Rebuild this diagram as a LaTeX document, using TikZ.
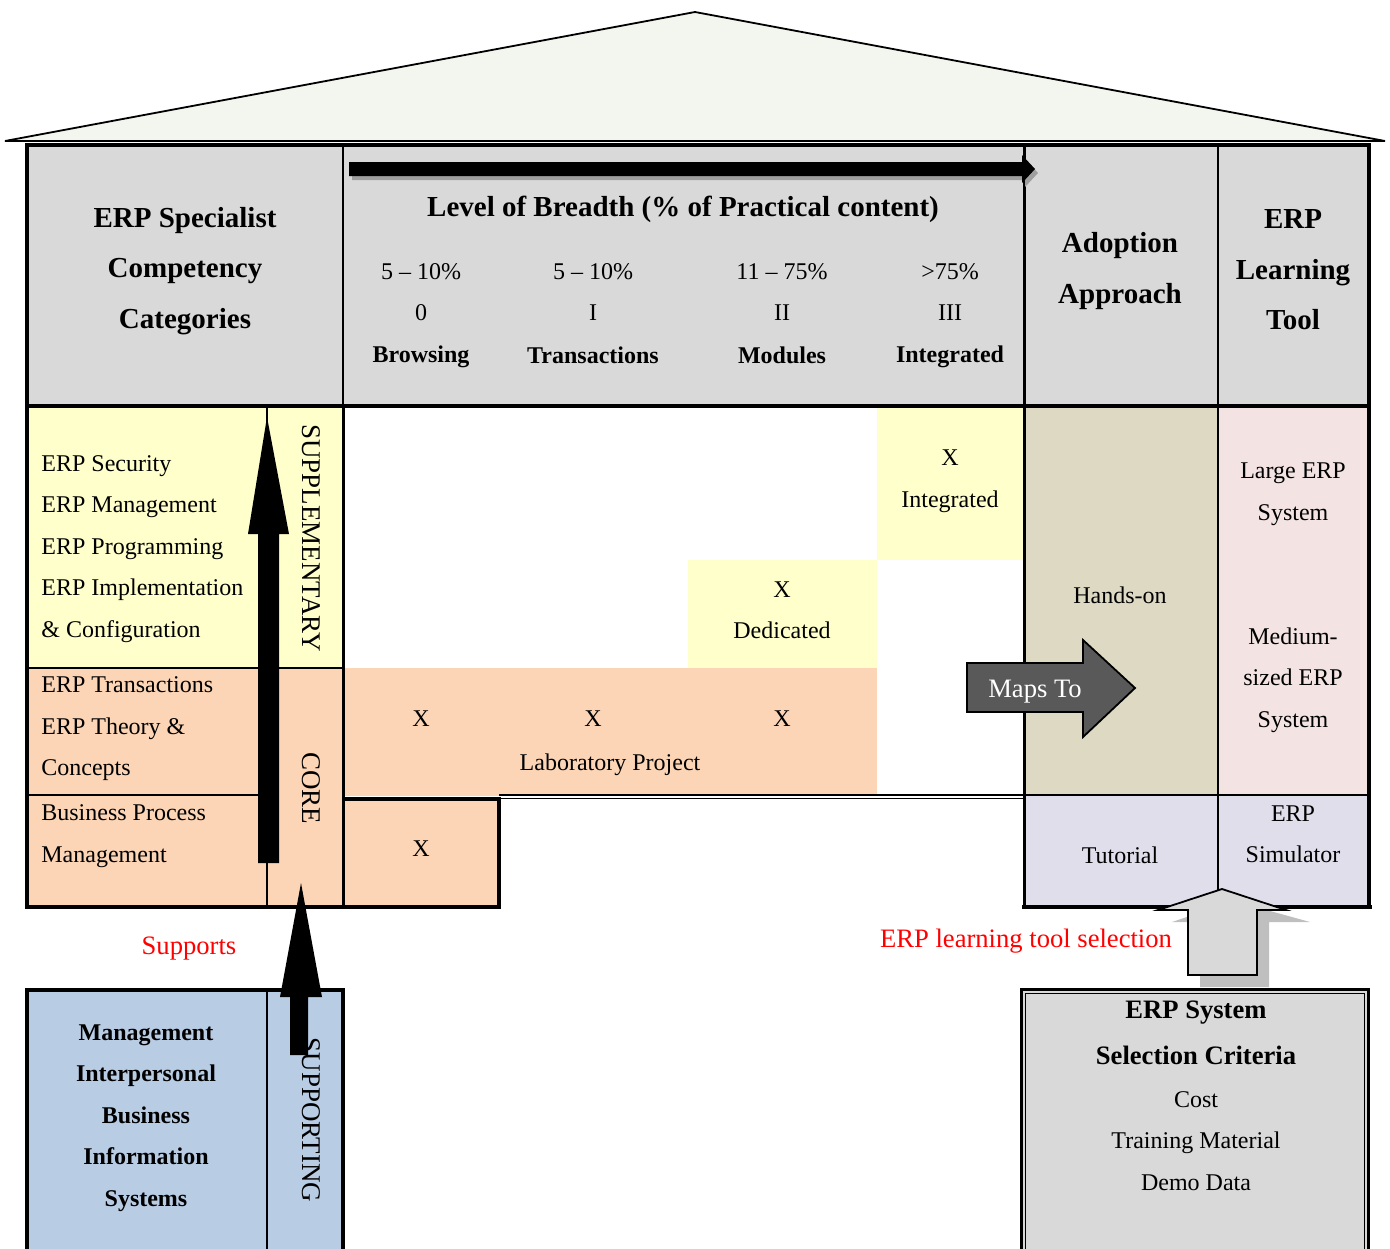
\documentclass[tikz,border=0pt]{standalone}
\usepackage{fontspec}
\setmainfont{Liberation Serif}
\definecolor{roofc}{HTML}{F3F6EE}
\definecolor{hdrgray}{HTML}{D9D9D9}
\definecolor{yel}{HTML}{FFFFCC}
\definecolor{ora}{HTML}{FBD5B5}
\definecolor{hand}{HTML}{DDD9C3}
\definecolor{pinkc}{HTML}{F3E4E3}
\definecolor{lav}{HTML}{E1DEEB}
\definecolor{blu}{HTML}{B8CCE4}
\definecolor{mapc}{HTML}{595959}
\definecolor{shad}{HTML}{BFBFBF}
\definecolor{redt}{HTML}{FF0000}
\begin{document}
\begin{tikzpicture}[x=0.5pt,y=-0.5pt,line join=miter,
  thickline/.style={line width=2pt},
  medline/.style={line width=1.5pt},
  thinline/.style={line width=0.9pt},
  txt/.style={font=\fontsize{12}{20.75}\selectfont,align=center,inner sep=0pt},
  ltxt/.style={font=\fontsize{12}{20.75}\selectfont,align=left,inner sep=0pt,anchor=west},
  hdr/.style={font=\bfseries\fontsize{14.5}{25.25}\selectfont,align=center,inner sep=0pt},
  bld/.style={font=\bfseries\fontsize{12}{20.75}\selectfont,align=center,inner sep=0pt},
  bigb/.style={font=\bfseries\fontsize{13.3}{23}\selectfont,align=center,inner sep=0pt},
  redlab/.style={font=\fontsize{13.3}{16}\selectfont,text=redt,inner sep=0pt},
  vert/.style={font=\fontsize{13.5}{16}\selectfont,rotate=-90,inner sep=0pt}]
\useasboundingbox (0,0) rectangle (1390,1248);

% roof
\filldraw[fill=roofc,line width=0.9pt] (5,141) -- (695,12) -- (1385,141) -- cycle;

% fills
\fill[hdrgray] (27,144) rectangle (1369,406);
\fill[yel] (27,406) rectangle (343,668);
\fill[ora] (27,668) rectangle (343,907);
\fill[yel] (877,406) rectangle (1024,560);
\fill[yel] (688,560) rectangle (877,668);
\fill[ora] (343,668) rectangle (877,796);
\fill[ora] (343,799) rectangle (499,907);
\fill[hand] (1024,406) rectangle (1218,795);
\fill[pinkc] (1218,406) rectangle (1369,795);
\fill[lav] (1024,795) rectangle (1369,907);
\fill[blu] (27,990) rectangle (343,1260);
\fill[hdrgray] (1021,989) rectangle (1368,1260);

% grid lines
\draw[thickline] (25,144.5) -- (1371,144.5);
\draw[thickline] (27,144) -- (27,907) -- (499,907) -- (499,799) -- (343,799);
\draw[thickline] (27,406) -- (1369,406);
\draw[thinline] (343,144) -- (343,406);
\draw[medline] (343,406) -- (343,907);
\draw[medline] (1024,144) -- (1024,907);
\draw[thinline] (1218,144) -- (1218,907);
\draw[thickline] (1369,144) -- (1369,907);
\draw[thickline] (1022,907) -- (1372,907);
\draw[thinline] (1024,795) -- (1369,795);
\draw[thinline] (27,668) -- (343,668);
\draw[thinline] (27,795) -- (267,795);
\draw[thinline] (267,406) -- (267,907);
\draw[line width=0.6pt] (499,795) -- (1024,795);
\draw[line width=0.6pt] (499,798.5) -- (1024,798.5);

% supporting box
\draw[thickline] (27,1260) -- (27,990) -- (343,990) -- (343,1260);
\draw[thinline] (267,990) -- (267,1260);
% criteria box
\draw[medline] (1021,1260) -- (1021,989) -- (1368,989) -- (1368,1260);
\draw[line width=0.5pt] (1025,1260) -- (1025,993) -- (1364,993) -- (1364,1260);

% header texts
\node[hdr] (hcat) at (185,271) {ERP Specialist\\Competency\\Categories};
\node[hdr] (hlev) at (683,209) {Level of Breadth (\% of Practical content)};
\node[hdr] (hadopt) at (1120,271) {Adoption\\Approach};
\node[hdr] (htool) at (1293,270) {ERP\\Learning\\Tool};
\node[txt] (p0) at (421,272) {5 – 10\%};
\node[txt] (p1) at (593,272) {5 – 10\%};
\node[txt] (p2) at (782,272) {11 – 75\%};
\node[txt] (p3) at (950,272) {>75\%};
\node[txt] (r0) at (421,313) {0};
\node[txt] (r1) at (593,313) {I};
\node[txt] (r2) at (782,313) {II};
\node[txt] (r3) at (950,313) {III};
\node[bld] (b0) at (421,357) {Browsing};
\node[bld] (b1) at (593,355) {Transactions};
\node[bld] (b2) at (782,355) {Modules};
\node[bld] (b3) at (950,357) {Integrated};

% left column texts
\node[ltxt] (supl) at (41,549) {ERP Security\\ERP Management\\ERP Programming\\ERP Implementation\\\& Configuration};
\node[ltxt] (corel) at (41,729) {ERP Transactions\\ERP Theory \&\\Concepts};
\node[ltxt] (bpm) at (41,836) {Business Process\\Management};
\node[vert] (supv) at (311,538) {SUPPLEMENTARY};
\node[vert] (corev) at (311,788) {CORE};

% matrix cells
\node[txt] (xint) at (950,481) {X\\Integrated};
\node[txt] (xded) at (782,610) {X\\Dedicated};
\node[txt] (xa) at (421,719) {X};
\node[txt] (xb) at (593,719) {X};
\node[txt] (xc) at (782,719) {X};
\node[txt] (lab) at (610,765) {Laboratory Project};
\node[txt] (xd) at (421,849) {X};

% right columns
\node[txt] (hands) at (1120,595) {Hands-on};
\node[txt] (tut) at (1120,855) {Tutorial};
\node[txt] (large) at (1293,494) {Large ERP\\System};
\node[txt] (medium) at (1293,680) {Medium-\\sized ERP\\System};
\node[txt] (sim) at (1293,834) {ERP\\Simulator};

% supporting box texts
\node[bld] (supt) at (146,1118) {Management\\Interpersonal\\Business\\Information\\Systems};
\node[vert] (supportv) at (311,1120) {SUPPORTING};

% criteria texts
\node[bigb] (crit) at (1196,1033) {ERP System\\Selection Criteria};
\node[txt] (critl) at (1196,1141) {Cost\\Training Material\\Demo Data};

% red labels
\node[redlab] (supports) at (189,949) {Supports};
\node[redlab] (selection) at (1026,941) {ERP learning tool selection};

% top breadth arrow (with shadow)
\fill[gray!75] (352,166) -- (1025,166) -- (1025,159) -- (1038,173) -- (1025,187) -- (1025,180) -- (352,180) -- cycle;
\fill[black] (349,162) -- (1022,162) -- (1022,155) -- (1035,169) -- (1022,183) -- (1022,176) -- (349,176) -- cycle;

% big up arrow in left column
\coordinate (aTip) at (267,417);
\fill[black] (258,863) -- (258,534) -- (248,534) -- (aTip) -- (289,534) -- (279,534) -- (279,863) -- cycle;

% supports arrow
\coordinate (sTip) at (301,883);
\fill[black] (290,1055) -- (290,997) -- (280,997) -- (sTip) -- (322,997) -- (308,997) -- (308,1055) -- cycle;

% maps to arrow
\filldraw[fill=mapc,draw=black,line width=0.9pt] (967,663) -- (1083,663) -- (1083,640) -- (1135,688) -- (1083,737) -- (1083,712) -- (967,712) -- cycle;
\node[font=\fontsize{13.3}{16}\selectfont,text=white,inner sep=0pt] (maps) at (1035,692) {Maps To};

% tool selection up arrow
\fill[shad] (1200,987) -- (1200,922) -- (1172,922) -- (1234,901) -- (1310,922) -- (1269,922) -- (1269,987) -- cycle;
\filldraw[fill=hdrgray,draw=black,line width=0.9pt] (1188,975) -- (1188,910) -- (1158,910) -- (1222,889) -- (1286,910) -- (1257,910) -- (1257,975) -- cycle;
\end{tikzpicture}
\end{document}
